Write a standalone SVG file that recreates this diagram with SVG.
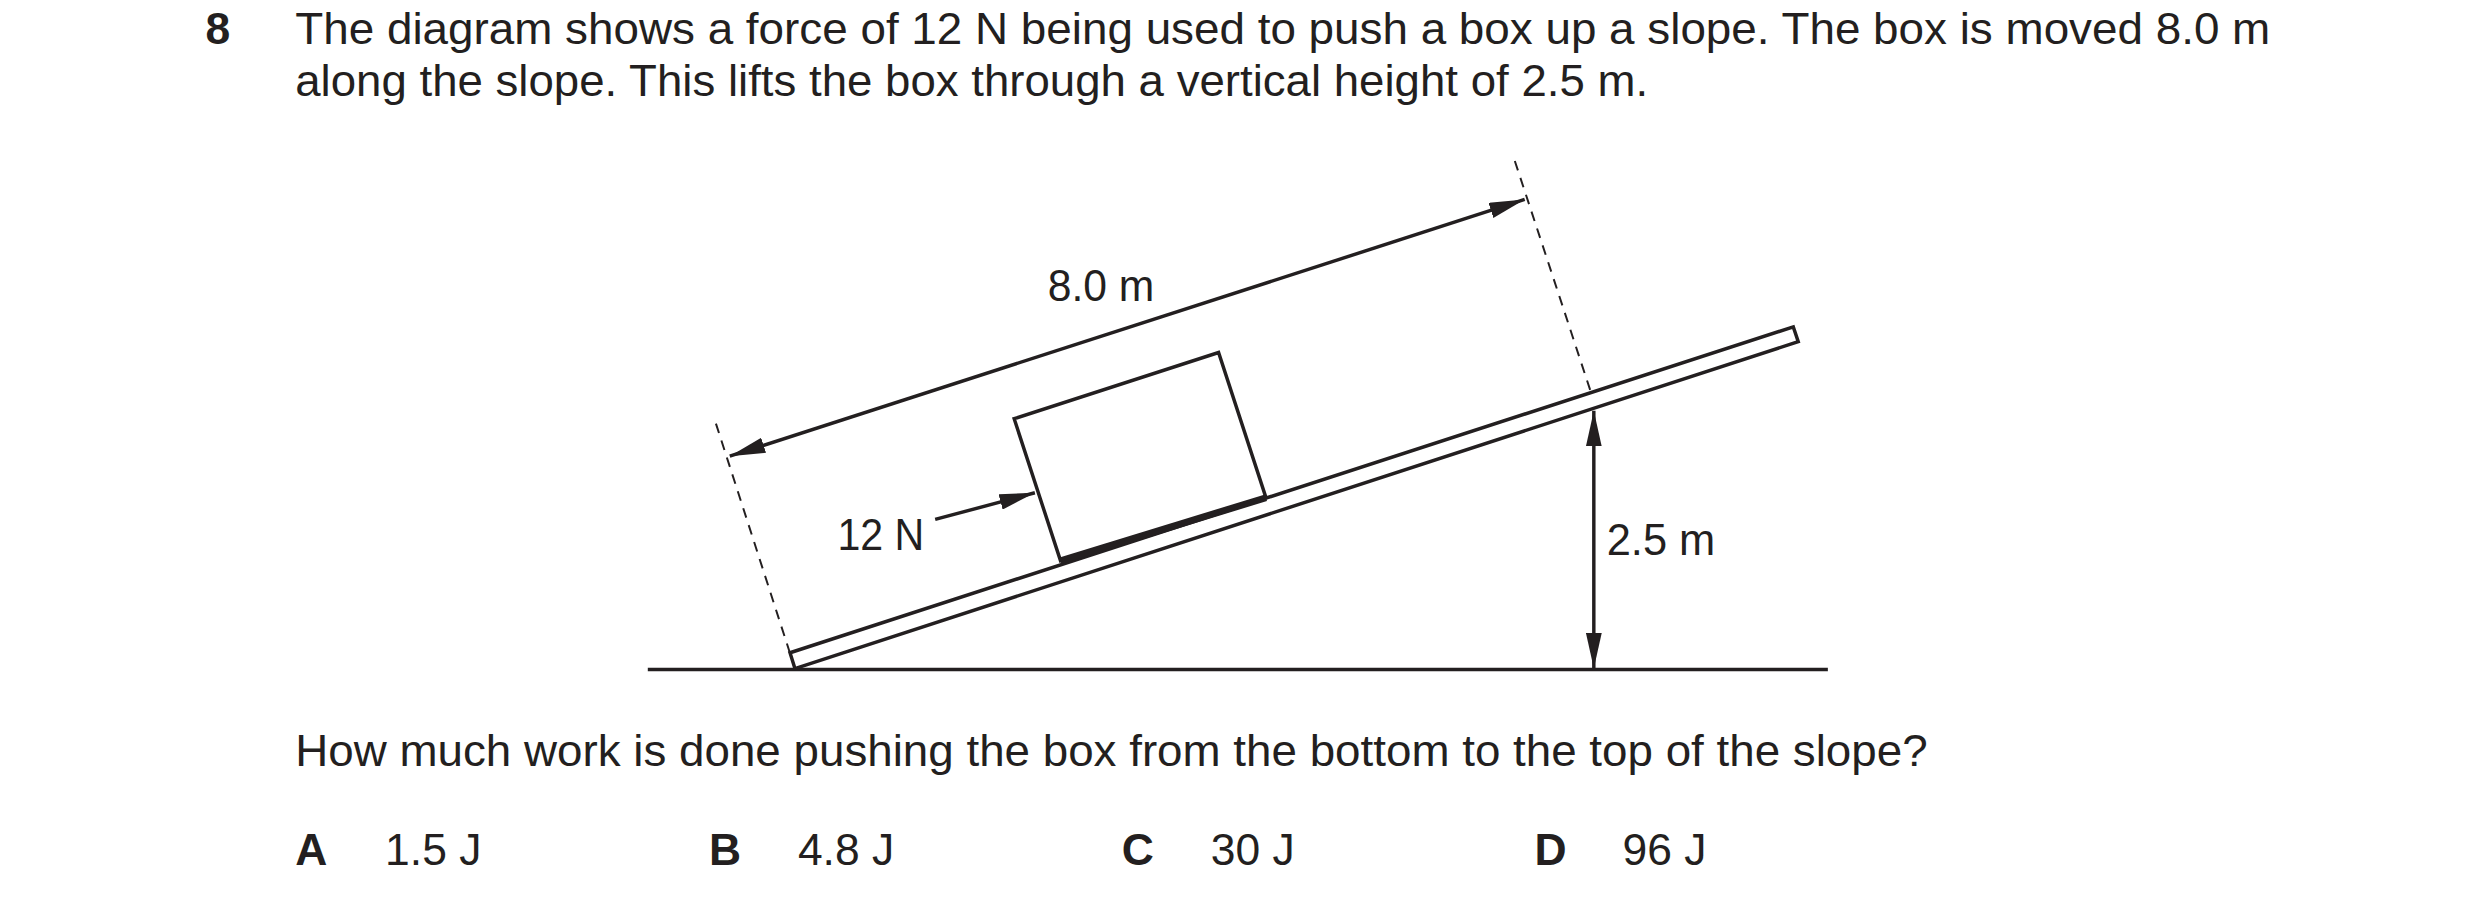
<svg xmlns="http://www.w3.org/2000/svg" width="2480" height="908" viewBox="0 0 2480 908">
<style>
text{font-family:"Liberation Sans",Arial,sans-serif;font-size:45px;fill:#231f20}
.b{font-weight:bold}
.ln{stroke:#231f20;stroke-width:3.5;fill:none}
.d{stroke:#231f20;stroke-width:2;fill:none;stroke-dasharray:10,8}
</style>
<defs>
<marker id="ahb" viewBox="0 0 36 16" refX="36" refY="8" markerWidth="36" markerHeight="16" orient="auto-start-reverse" markerUnits="userSpaceOnUse">
<path d="M0,0 L36,8 L0,16 Z" fill="#231f20"/>
</marker>
</defs>
<rect width="2480" height="908" fill="#fff"/>
<g transform="scale(0.9875)">
<g id="question">
<text x="208" y="45" class="b">8</text>
<text x="299" y="45" textLength="2000" lengthAdjust="spacingAndGlyphs">The diagram shows a force of 12 N being used to push a box up a slope. The box is moved 8.0 m</text>
<text x="299" y="97" textLength="1370" lengthAdjust="spacingAndGlyphs">along the slope. This lifts the box through a vertical height of 2.5 m.</text>
</g>
<g id="ground"><line class="ln" x1="656" y1="678" x2="1851" y2="678"/></g>
<g id="slope"><polygon class="ln" points="800,661 1816,331 1821,346 805,677"/></g>
<g id="box"><polygon class="ln" points="1074,568 1027,424 1234,357 1282,504"/><line x1="1074" y1="568" x2="1282" y2="504" stroke="#231f20" stroke-width="7"/></g>
<g id="connectors">
<line class="d" x1="725" y1="429" x2="805" y2="677"/>
<line class="d" x1="1534" y1="163" x2="1611" y2="397"/>
<line class="ln" x1="739" y1="462" x2="1544" y2="202" marker-start="url(#ahb)" marker-end="url(#ahb)"/>
<line class="ln" x1="947" y1="526" x2="1048" y2="499" marker-end="url(#ahb)"/>
<line class="ln" x1="1614" y1="416" x2="1614" y2="677" marker-start="url(#ahb)" marker-end="url(#ahb)"/>
</g>
<g id="labels">
<text x="1115" y="305" text-anchor="middle" textLength="108" lengthAdjust="spacingAndGlyphs">8.0 m</text>
<text x="848" y="557" textLength="88" lengthAdjust="spacingAndGlyphs">12 N</text>
<text x="1627" y="562" textLength="110" lengthAdjust="spacingAndGlyphs">2.5 m</text>
</g>
<g id="options">
<text x="299" y="776" textLength="1653" lengthAdjust="spacingAndGlyphs">How much work is done pushing the box from the bottom to the top of the slope?</text>
<text x="299" y="876" class="b">A</text><text x="390" y="876">1.5 J</text>
<text x="718" y="876" class="b">B</text><text x="808" y="876">4.8 J</text>
<text x="1136" y="876" class="b">C</text><text x="1226" y="876">30 J</text>
<text x="1554" y="876" class="b">D</text><text x="1643" y="876">96 J</text>
</g>
</g>
</svg>
